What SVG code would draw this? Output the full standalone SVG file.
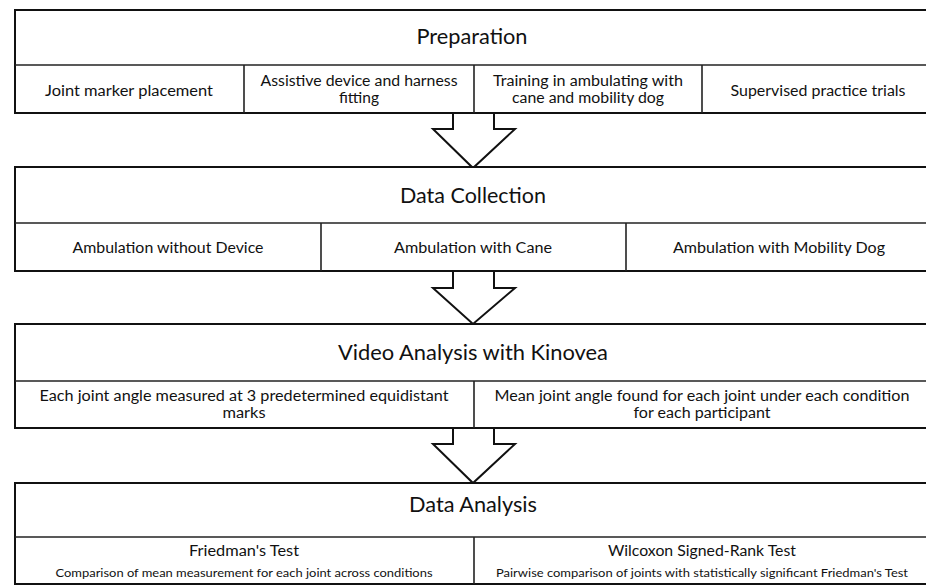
<svg xmlns="http://www.w3.org/2000/svg" width="926" height="585" viewBox="0 0 926 585">
<style>
.box{fill:#fff;stroke:#111;stroke-width:2}
.div{stroke:#222;stroke-width:1.6;fill:none}
.arrow{fill:#fff;stroke:#111;stroke-width:2;stroke-linejoin:miter}
text{font-family:Lato,"Open Sans","Liberation Sans",sans-serif;fill:#111;text-anchor:middle}
.h{font-size:21px}
.s{font-size:14.5px}
.t{font-size:11.5px}
</style>
<rect width="926" height="585" fill="#fff"/>
<g id="connectors">
<polygon class="arrow" points="453,112 453,129 433,129 473,168 515,129 494,129 494,112"/>
<polygon class="arrow" points="453,270 453,288 433,288 473,324 515,288 494,288 494,270"/>
<polygon class="arrow" points="453,427 453,444 433,444 473,483 515,444 494,444 494,427"/>
</g>
<g id="preparation">
<rect class="box" x="15" y="10" width="930" height="103"/>
<line class="div" x1="15" y1="65" x2="945" y2="65"/>
<line class="div" x1="244" y1="65" x2="244" y2="113"/>
<line class="div" x1="474" y1="65" x2="474" y2="113"/>
<line class="div" x1="702" y1="65" x2="702" y2="113"/>
<text class="h" x="472" y="44" textLength="111" lengthAdjust="spacingAndGlyphs">Preparation</text>
<text class="s" x="129" y="96" textLength="168" lengthAdjust="spacingAndGlyphs">Joint marker placement</text>
<text class="s" x="359" y="86" textLength="197" lengthAdjust="spacingAndGlyphs">Assistive device and harness</text>
<text class="s" x="359" y="103" textLength="40" lengthAdjust="spacingAndGlyphs">fitting</text>
<text class="s" x="588" y="86" textLength="190" lengthAdjust="spacingAndGlyphs">Training in ambulating with</text>
<text class="s" x="588" y="103" textLength="152" lengthAdjust="spacingAndGlyphs">cane and mobility dog</text>
<text class="s" x="818" y="96" textLength="175" lengthAdjust="spacingAndGlyphs">Supervised practice trials</text>
</g>
<g id="data-collection">
<rect class="box" x="15" y="167" width="930" height="104"/>
<line class="div" x1="15" y1="223" x2="945" y2="223"/>
<line class="div" x1="321" y1="223" x2="321" y2="271"/>
<line class="div" x1="626" y1="223" x2="626" y2="271"/>
<text class="h" x="473" y="203" textLength="146" lengthAdjust="spacingAndGlyphs">Data Collection</text>
<text class="s" x="168" y="253" textLength="191" lengthAdjust="spacingAndGlyphs">Ambulation without Device</text>
<text class="s" x="473" y="253" textLength="158" lengthAdjust="spacingAndGlyphs">Ambulation with Cane</text>
<text class="s" x="779" y="253" textLength="212" lengthAdjust="spacingAndGlyphs">Ambulation with Mobility Dog</text>
</g>
<g id="video-analysis">
<rect class="box" x="15" y="324" width="930" height="104"/>
<line class="div" x1="15" y1="381" x2="945" y2="381"/>
<line class="div" x1="474" y1="381" x2="474" y2="428"/>
<text class="h" x="473" y="360" textLength="270" lengthAdjust="spacingAndGlyphs">Video Analysis with Kinovea</text>
<text class="s" x="244" y="401" textLength="409" lengthAdjust="spacingAndGlyphs">Each joint angle measured at 3 predetermined equidistant</text>
<text class="s" x="244" y="418" textLength="43" lengthAdjust="spacingAndGlyphs">marks</text>
<text class="s" x="702" y="401" textLength="415" lengthAdjust="spacingAndGlyphs">Mean joint angle found for each joint under each condition</text>
<text class="s" x="702" y="418" textLength="137" lengthAdjust="spacingAndGlyphs">for each participant</text>
</g>
<g id="data-analysis">
<rect class="box" x="15" y="483" width="930" height="101"/>
<line class="div" x1="15" y1="537" x2="945" y2="537"/>
<line class="div" x1="474" y1="537" x2="474" y2="584"/>
<text class="h" x="473" y="512" textLength="128" lengthAdjust="spacingAndGlyphs">Data Analysis</text>
<text class="s" x="244" y="556" textLength="110" lengthAdjust="spacingAndGlyphs">Friedman's Test</text>
<text class="t" x="244" y="577" textLength="377" lengthAdjust="spacingAndGlyphs">Comparison of mean measurement for each joint across conditions</text>
<text class="s" x="702" y="556" textLength="188" lengthAdjust="spacingAndGlyphs">Wilcoxon Signed-Rank Test</text>
<text class="t" x="702" y="577" textLength="412" lengthAdjust="spacingAndGlyphs">Pairwise comparison of joints with statistically significant Friedman's Test</text>
</g>
</svg>
